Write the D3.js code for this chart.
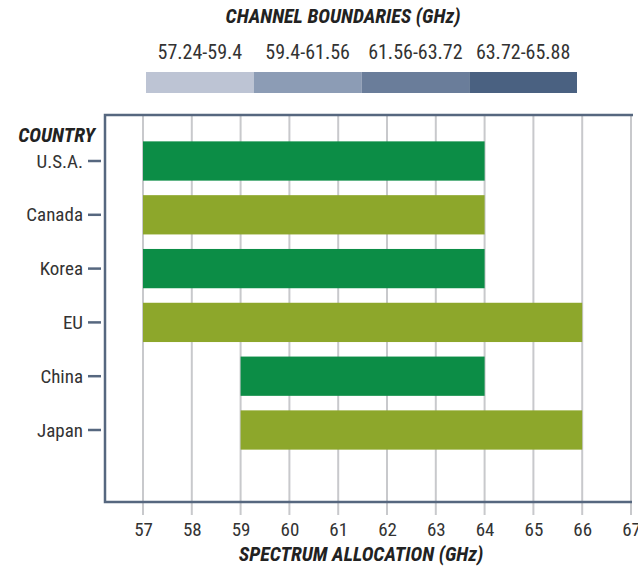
<!DOCTYPE html>
<html><head><meta charset="utf-8">
<script src="https://cdn.jsdelivr.net/npm/d3@7"></script>
<style>
html,body{margin:0;padding:0;background:#fff;}
svg text{font-family:"Liberation Sans Narrow","Roboto Condensed","DejaVu Sans Condensed",Arial,sans-serif;}
</style></head>
<body><svg id="c" width="638" height="574"></svg>
<script>
// Data
const countries = ["U.S.A.", "Canada", "Korea", "EU", "China", "Japan"];
const startGHz = [57, 57, 57, 57, 59, 59];
const endGHz = [64, 64, 64, 66, 64, 66];
const barShade = ["dark", "light", "dark", "light", "dark", "light"];
const channels = ["57.24-59.4", "59.4-61.56", "61.56-63.72", "63.72-65.88"];
const xTicks = [57, 58, 59, 60, 61, 62, 63, 64, 65, 66, 67];

const svg = d3.select("#c");
const frameColor = "#56677f";
const textColor = "#333";

// Legend
const legendColors = ["#bdc4d4", "#8c9cb5", "#6a7d9a", "#4a6181"];
svg.append("text").attr("x", 343).attr("y", 23).attr("text-anchor", "middle")
  .attr("font-size", 20).attr("font-weight", "bold").attr("font-style", "italic")
  .attr("fill", "#222").text("CHANNEL BOUNDARIES (GHz)");
const lx = d3.scaleBand().domain(channels).range([146, 577]);
const lc = d3.scaleOrdinal().domain(channels).range(legendColors);
svg.append("g").selectAll("rect").data(channels).join("rect")
  .attr("x", d => lx(d)).attr("y", 72).attr("width", lx.bandwidth()).attr("height", 21)
  .attr("fill", d => lc(d));
svg.append("g").selectAll("text").data(channels).join("text")
  .attr("x", d => lx(d) + lx.bandwidth() / 2).attr("y", 59).attr("text-anchor", "middle")
  .attr("font-size", 20).attr("fill", textColor).text(d => d);

// Scales
const x = d3.scaleLinear().domain([57, 67]).range([143, 631]);
const y = d3.scaleBand().domain(countries).range([134.1, 456.9]).paddingInner(0.27).paddingOuter(0.135);
const barColor = d3.scaleOrdinal().domain(["dark", "light"]).range(["#0c8d46", "#8da72b"]);

// Gridlines (extend below the frame as ticks)
svg.append("g").selectAll("line").data(xTicks).join("line")
  .attr("x1", d => x(d)).attr("x2", d => x(d)).attr("y1", 116).attr("y2", 515)
  .attr("stroke", "#c8c9cc").attr("stroke-width", 2);

// Bars
const rows = countries.map((c, i) => ({c, s: startGHz[i], e: endGHz[i], k: barShade[i]}));
svg.append("g").selectAll("rect").data(rows).join("rect")
  .attr("x", d => x(d.s)).attr("y", d => y(d.c))
  .attr("width", d => x(d.e) - x(d.s)).attr("height", y.bandwidth())
  .attr("fill", d => barColor(d.k));

// Frame
const fr = svg.append("g").attr("stroke", frameColor).attr("stroke-width", 2.5).attr("fill", "none");
fr.append("path").attr("d", "M633,115 H105 V502 H632");

// X axis labels
const xAxis = d3.axisBottom(x).tickValues(xTicks).tickSize(0).tickPadding(0).tickFormat(d3.format("d"));
const gx = svg.append("g").attr("transform", "translate(0,521)").call(xAxis);
gx.select(".domain").remove();
gx.selectAll("text").attr("font-size", 19).attr("fill", textColor)
  .attr("font-family", null).attr("dy", "0.78em");
gx.attr("font-family", null);

// Y axis
const yAxis = d3.axisLeft(y).tickSize(13).tickPadding(5);
const gy = svg.append("g").attr("transform", "translate(101,0)").call(yAxis);
gy.select(".domain").remove();
gy.attr("font-family", null);
gy.selectAll(".tick line").attr("stroke", frameColor).attr("stroke-width", 2.5);
gy.selectAll("text").attr("font-size", 19).attr("fill", textColor).attr("dy", "0.35em");

// Axis titles
svg.append("text").attr("x", 95).attr("y", 142).attr("text-anchor", "end")
  .attr("font-size", 20).attr("font-weight", "bold").attr("font-style", "italic")
  .attr("fill", "#222").text("COUNTRY");
svg.append("text").attr("x", 361).attr("y", 561).attr("text-anchor", "middle")
  .attr("font-size", 20).attr("font-weight", "bold").attr("font-style", "italic")
  .attr("fill", "#222").text("SPECTRUM ALLOCATION (GHz)");
</script></body></html>
